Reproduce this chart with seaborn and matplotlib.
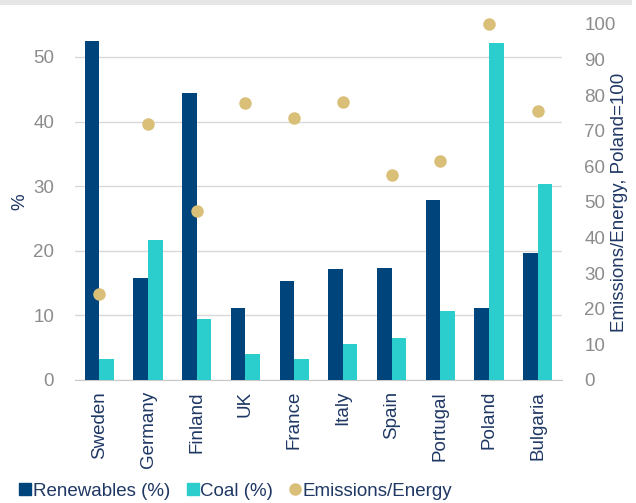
import pandas as pd
import numpy as np
import seaborn as sns
import matplotlib.pyplot as plt
from matplotlib.lines import Line2D
from matplotlib.patches import Rectangle

# Data
countries = ["Sweden", "Germany", "Finland", "UK", "France", "Italy", "Spain", "Portugal", "Poland", "Bulgaria"]
renewables = [52.5, 15.8, 44.4, 11.1, 15.4, 17.2, 17.4, 27.9, 11.2, 19.6]
coal = [3.3, 21.7, 9.5, 4.0, 3.3, 5.5, 6.5, 10.7, 52.1, 30.3]
emissions = [24.2, 72.0, 47.6, 77.8, 73.5, 78.2, 57.6, 61.5, 100, 75.6]

navy = "#00447c"
cyan = "#2ccdcd"
gold = "#d9bf77"
text_navy = "#1f3864"
tick_gray = "#8c8c8c"

sns.set_style("white")
plt.rcParams['font.family'] = ['Liberation Sans', 'DejaVu Sans']

df = pd.DataFrame({
    "country": countries * 2,
    "value": renewables + coal,
    "series": ["Renewables (%)"] * len(countries) + ["Coal (%)"] * len(countries),
})

fig = plt.figure(figsize=(6.36, 5.03), dpi=100)
fig.patches.append(Rectangle((0, 1 - 5 / 503), 632 / 636, 5 / 503, transform=fig.transFigure,
                             facecolor="#e6e6e6", edgecolor="none", zorder=0))
ax = fig.add_axes([75 / 636, 1 - 380 / 503, 487 / 636, 356 / 503])

sns.barplot(data=df, x="country", y="value", hue="series", order=countries,
            palette=[navy, cyan], width=0.6, saturation=1, ax=ax, legend=False,
            edgecolor="none", linewidth=0)
for b in ax.patches:
    b.set_zorder(3)

ax.set_ylim(0, 55.1)
ax.set_xlim(-0.5, 9.5)
ax.set_yticks(range(0, 51, 10))
ax.tick_params(axis="y", length=0, labelsize=13.5, labelcolor=tick_gray, pad=15)
ax.tick_params(axis="x", which="major", length=0, labelsize=13.5, labelcolor=text_navy, rotation=90, pad=8)
ax.set_xticks(np.arange(-0.5, 10, 1), minor=True)
ax.tick_params(axis="x", which="minor", length=5, color="#c8c8c8", width=1)
ax.grid(axis="y", color="#d9d9d9", linewidth=1)
ax.set_axisbelow(True)
for s in ["top", "right", "left"]:
    ax.spines[s].set_visible(False)
ax.spines["bottom"].set_color("#c8c8c8")
ax.set_xlabel("")
ax.set_ylabel("%", fontsize=13.5, color=text_navy)
ax.yaxis.set_label_coords(-0.095, 0.5)

ax2 = ax.twinx()
sns.stripplot(x=countries, y=emissions, order=countries, color=gold, size=9,
              jitter=False, ax=ax2, zorder=4, linewidth=0, clip_on=False)
ax2.set_xlim(-0.5, 9.5)
ax2.set_ylim(0, 100)
ax2.set_yticks(range(0, 101, 10))
ax2.tick_params(axis="y", length=0, labelsize=13.5, labelcolor=tick_gray, pad=16)
for s in ax2.spines.values():
    s.set_visible(False)
ax2.set_ylabel("Emissions/Energy, Poland=100", fontsize=13.5, color=text_navy)
ax2.yaxis.set_label_coords(1.1, 0.5)

handles = [
    Line2D([], [], marker="s", linestyle="none", color=navy, markersize=9),
    Line2D([], [], marker="s", linestyle="none", color=cyan, markersize=9),
    Line2D([], [], marker="o", linestyle="none", color=gold, markersize=8),
]
fig.legend(handles, ["Renewables (%)", "Coal (%)", "Emissions/Energy"], loc="center left",
           bbox_to_anchor=(0.025, 1 - 491 / 503), ncol=3, frameon=False, fontsize=13.5,
           handlelength=0.6, handletextpad=0.1, columnspacing=0.9, labelcolor=text_navy,
           borderaxespad=0, borderpad=0.2)

fig.savefig("out.png", dpi=100)
